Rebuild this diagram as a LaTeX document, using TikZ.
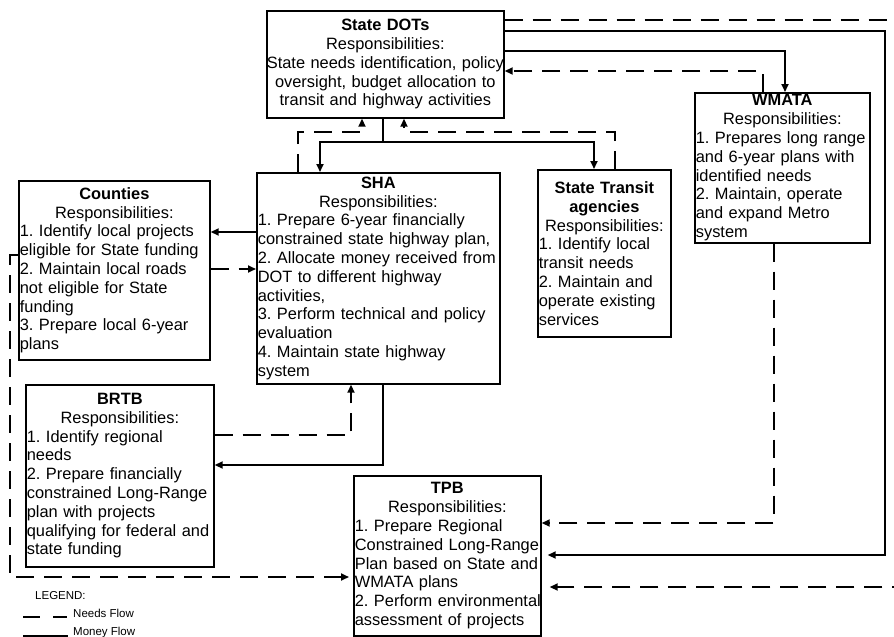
\documentclass[tikz,border=0pt]{standalone}
\usepackage{fontspec}
\setmainfont{Liberation Sans}
\usetikzlibrary{arrows.meta}
\frenchspacing
\begin{document}
\begin{tikzpicture}[x=1pt,y=-1pt,
  box/.style={draw, line width=1.7pt, anchor=north west, inner xsep=1pt, inner ysep=0pt, font=\fontsize{16.4}{18.8}\selectfont\frenchspacing},
  money/.style={line width=1.7pt, -{Triangle[length=8pt,width=7pt]}},
  moneyline/.style={line width=1.7pt},
  needs/.style={money, dash pattern=on 18pt off 10pt},
  legtext/.style={font=\fontsize{11.5}{13}\selectfont, anchor=base west, inner sep=0pt},
  legline/.style={line width=1.2pt}]
\fill[white] (0,0) rectangle (894,637);
\useasboundingbox (0,0) rectangle (894,637);

% boxes
\node[box, minimum width=237pt, minimum height=107pt, text width=235pt] (dots) at (266,10)
 {\centering\textbf{State DOTs}\\Responsibilities:\\\makebox[\linewidth]{State needs identification, policy}\\oversight, budget allocation to\\transit and highway activities\par};
\node[box, minimum width=175pt, minimum height=150pt, text width=173pt] (wmata) at (694,92)
 {\centering\textbf{WMATA}\\Responsibilities:\par\raggedright 1. Prepares long range\\and 6-year plans with\\identified needs\\2. Maintain, operate\\and expand Metro\\system\par};
\node[box, minimum width=191pt, minimum height=179pt, text width=189pt] (counties) at (18,180)
 {\centering\textbf{Counties}\\Responsibilities:\par\raggedright 1. Identify local projects\\eligible for State funding\\2. Maintain local roads\\not eligible for State\\funding\\3. Prepare local 6-year\\plans\par};
\node[box, minimum width=243pt, minimum height=211pt, text width=241pt] (sha) at (256,172)
 {\centering\textbf{SHA}\\Responsibilities:\par\raggedright 1. Prepare 6-year financially\\constrained state highway plan,\\2. Allocate money received from\\DOT to different highway\\activities,\\3. Perform technical and policy\\evaluation\\4. Maintain state highway\\system\par};
\node[box, minimum width=133pt, minimum height=167pt, text width=131pt] (sta) at (537,169)
 {\centering\textbf{State Transit}\\\textbf{agencies}\\Responsibilities:\par\raggedright 1. Identify local\\transit needs\\2. Maintain and\\operate existing\\services\par};
\node[box, minimum width=188pt, minimum height=182pt, text width=186pt] (brtb) at (25,384)
 {\centering\textbf{BRTB}\\Responsibilities:\par\raggedright 1. Identify regional\\needs\\2. Prepare financially\\constrained Long-Range\\plan with projects\\qualifying for federal and\\state funding\par};
\node[box, minimum width=187pt, minimum height=160pt, text width=185pt] (tpb) at (353,475)
 {\centering\textbf{TPB}\\Responsibilities:\par\raggedright 1. Prepare Regional\\Constrained Long-Range\\Plan based on State and\\WMATA plans\\\mbox{2. Perform environmental}\\assessment of projects\par};

% bend points
\coordinate (y20) at (0,20);
\coordinate (fr1) at (900,20);
\coordinate (fr2) at (900,587);
\coordinate (c1) at (885,31);
\coordinate (c2) at (885,555);
\coordinate (c3) at (785,51);
\coordinate (c4) at (763,71);
\coordinate (c5) at (383,142);
\coordinate (c6) at (320,0);
\coordinate (c7) at (594,0);
\coordinate (c8) at (298,132);
\coordinate (c9) at (362,132);
\coordinate (c10) at (615,132);
\coordinate (c11) at (404,132);
\coordinate (y232) at (0,232);
\coordinate (y269) at (0,269);
\coordinate (c12) at (351,435);
\coordinate (c13) at (383,465);
\coordinate (c14) at (10,255);
\coordinate (c15) at (10,577);
\coordinate (c16) at (774,523);

% connectors
\draw[needs, shorten >=8pt] (dots.east |- y20) -- (fr1) -- (fr2) -- (tpb.east |- fr2);
\draw[money, shorten >=6pt] (dots.east |- c1) -- (c1) -- (c2) -- (tpb.east |- c2);
\draw[money] (dots.east |- c3) -| (wmata.north -| c3);
\draw[needs] (wmata.north -| c4) |- (dots.east |- c4);
\draw[moneyline] (dots.south -| c5) -- (c5);
\draw[money] (c5) -| (sha.north -| c6);
\draw[money] (c5) -| (sta.north -| c7);
\draw[needs] (sha.north -| c8) -- (c8) -- (c9) -- (dots.south -| c9);
\draw[needs] (sta.north -| c10) -- (c10) -- (c11) -- (dots.south -| c11);
\draw[money] (sha.west |- y232) -- (counties.east |- y232);
\draw[needs] (counties.east |- y269) -- (sha.west |- y269);
\draw[needs] (brtb.east |- c12) -| (sha.south -| c12);
\draw[money] (sha.south -| c13) |- (brtb.east |- c13);
\draw[needs, shorten >=4pt] (counties.west |- c14) -- (c14) -- (c15) -- (tpb.west |- c15);
\draw[needs] (wmata.south -| c16) |- (tpb.east |- c16);

% legend
\node[legtext] (legend) at (35,599) {LEGEND:};
\node[legtext] (legneeds) at (73,617) {Needs Flow};
\node[legtext] (legmoney) at (73,635) {Money Flow};
\draw[legline] (23,617) -- (40,617);
\draw[legline] (53,617) -- (67,617);
\draw[legline] (23,636) -- (68,636);
\end{tikzpicture}
\end{document}
